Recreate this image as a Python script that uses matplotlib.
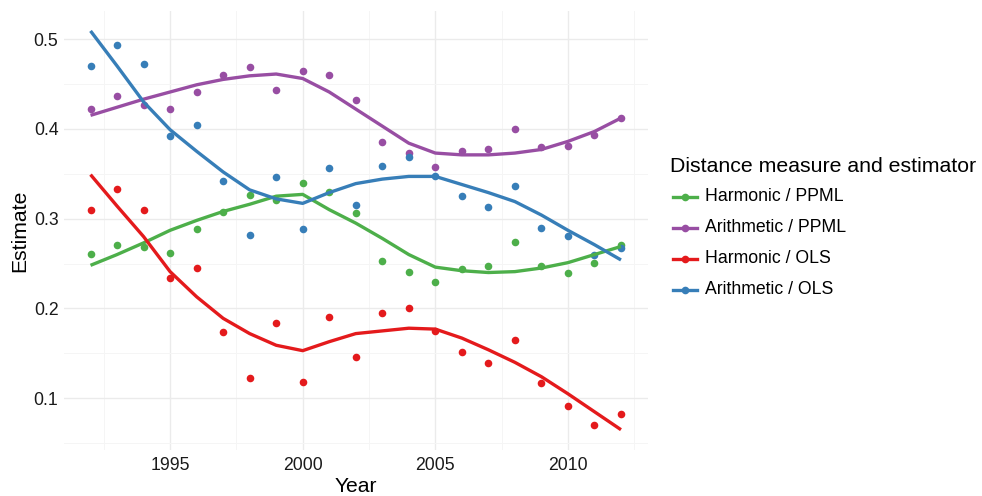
import matplotlib
matplotlib.use("Agg")
import matplotlib.pyplot as plt
from matplotlib.lines import Line2D
from matplotlib.ticker import MultipleLocator

plt.rcParams["font.family"] = ["Liberation Sans", "DejaVu Sans"]

years = list(range(1992, 2013))

series_names = ["Harmonic / PPML", "Arithmetic / PPML", "Harmonic / OLS", "Arithmetic / OLS"]
series_colors = ["#4DAF4A", "#984EA3", "#E41A1C", "#377EB8"]

# yearly estimates
harm_ppml = [0.261, 0.271, 0.268, 0.262, 0.288, 0.307, 0.326, 0.321, 0.340, 0.330, 0.306,
             0.253, 0.241, 0.229, 0.244, 0.247, 0.274, 0.247, 0.239, 0.251, 0.271]
arith_ppml = [0.422, 0.436, 0.427, 0.422, 0.441, 0.460, 0.469, 0.443, 0.464, 0.460, 0.432,
              0.385, 0.373, 0.357, 0.375, 0.378, 0.400, 0.380, 0.381, 0.393, 0.412]
harm_ols = [0.310, 0.333, 0.310, 0.234, 0.245, 0.174, 0.123, 0.184, 0.118, 0.191, 0.146,
            0.195, 0.200, 0.175, 0.151, 0.139, 0.165, 0.117, 0.091, 0.070, 0.082]
arith_ols = [0.470, 0.493, 0.472, 0.392, 0.404, 0.342, 0.282, 0.346, 0.288, 0.356, 0.315,
             0.359, 0.369, 0.347, 0.325, 0.313, 0.336, 0.290, 0.281, 0.260, 0.267]

# smoothed trend, read at each year
harm_ppml_fit = [0.248, 0.260, 0.273, 0.287, 0.298, 0.308, 0.316, 0.325, 0.327, 0.310, 0.295,
                 0.278, 0.260, 0.246, 0.242, 0.240, 0.241, 0.245, 0.251, 0.260, 0.269]
arith_ppml_fit = [0.415, 0.424, 0.433, 0.441, 0.449, 0.455, 0.459, 0.461, 0.456, 0.441, 0.422,
                  0.403, 0.384, 0.373, 0.371, 0.371, 0.373, 0.377, 0.386, 0.397, 0.412]
harm_ols_fit = [0.349, 0.314, 0.280, 0.241, 0.213, 0.189, 0.172, 0.159, 0.153, 0.163, 0.172,
                0.175, 0.178, 0.177, 0.167, 0.154, 0.140, 0.124, 0.105, 0.085, 0.065]
arith_ols_fit = [0.509, 0.470, 0.430, 0.399, 0.375, 0.352, 0.332, 0.322, 0.317, 0.329, 0.339,
                 0.344, 0.347, 0.347, 0.338, 0.329, 0.319, 0.304, 0.287, 0.271, 0.254]

points = [harm_ppml, arith_ppml, harm_ols, arith_ols]
fits = [harm_ppml_fit, arith_ppml_fit, harm_ols_fit, arith_ols_fit]

W, H = 982, 496
fig = plt.figure(figsize=(W / 100, H / 100), dpi=100)
ax = fig.add_axes([64 / W, 1 - 450 / H, (647.5 - 64) / W, (450 - 10.8) / H])

for vals, col in zip(points, series_colors):
    ax.scatter(years, vals, s=30, color=col, linewidths=0, zorder=3)
for vals, col in zip(fits, series_colors):
    ax.plot(years, vals, color=col, linewidth=2.4, solid_capstyle="butt",
            solid_joinstyle="round", zorder=4)

ax.set_xlim(1991, 2013)
ax.set_ylim(0.0424, 0.5314)
ax.xaxis.set_major_locator(MultipleLocator(5))
ax.xaxis.set_minor_locator(MultipleLocator(2.5))
ax.yaxis.set_major_locator(MultipleLocator(0.1))
ax.yaxis.set_minor_locator(MultipleLocator(0.05))
ax.grid(which="major", color="#EBEBEB", linewidth=1.0)
ax.grid(which="minor", color="#F5F5F5", linewidth=0.7)
ax.set_axisbelow(True)
for s in ax.spines.values():
    s.set_visible(False)
ax.tick_params(which="both", length=0, labelsize=12.7, labelcolor="#1a1a1a")
ax.tick_params(axis="x", pad=5)
ax.tick_params(axis="y", pad=4)
ax.set_yticks([0.1, 0.2, 0.3, 0.4, 0.5])
ax.set_yticklabels(["0.1", "0.2", "0.3", "0.4", "0.5"])

ax.set_xlabel("Year", fontsize=15.2, color="black", labelpad=2)
ax.set_ylabel("Estimate", fontsize=15.2, color="black", labelpad=3)

# legend drawn by hand in figure pixels
def px(x, y):
    return x / W, 1 - y / H

tx, ty = px(670, 166)
fig.text(tx, ty, "Distance measure and estimator", fontsize=15.3, ha="left", va="center")
row_y = [196.5, 228, 258.5, 289.5]
for name, col, ry in zip(series_names, series_colors, row_y):
    x0, y0 = px(673, ry)
    x1, _ = px(697, ry)
    fig.add_artist(Line2D([x0, x1], [y0, y0], transform=fig.transFigure,
                          color=col, linewidth=2.4))
    fig.add_artist(Line2D([(x0 + x1) / 2], [y0], transform=fig.transFigure,
                          color=col, marker="o", markersize=5.5, markeredgewidth=0))
    lx, ly = px(705, ry)
    fig.text(lx, ly, name, fontsize=12.7, ha="left", va="center")

fig.savefig("out.png", dpi=100)
